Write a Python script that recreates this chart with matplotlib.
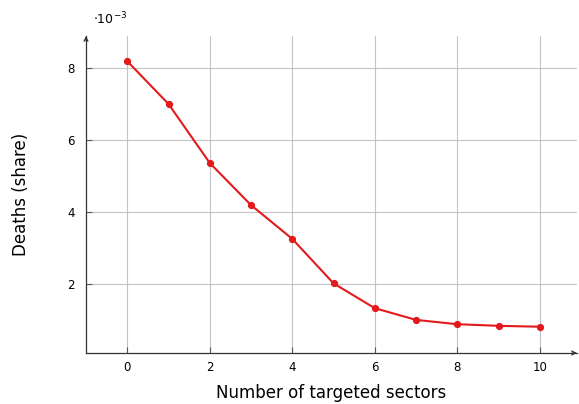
import matplotlib
matplotlib.use("Agg")
import matplotlib.pyplot as plt

sectors = [0, 1, 2, 3, 4, 5, 6, 7, 8, 9, 10]
deaths_share = [8.19, 7.0, 5.36, 4.19, 3.25, 2.015, 1.325, 1.0, 0.88, 0.835, 0.81]  # ×10^-3
xticks = [0, 2, 4, 6, 8, 10]
yticks = [2, 4, 6, 8]

plt.rcParams["font.family"] = ["DejaVu Sans"]

W, H = 579, 404
fig = plt.figure(figsize=(W / 100, H / 100), dpi=100)
left, right, top, bottom = 86, 577, 36, 353
ax = fig.add_axes([left / W, 1 - bottom / H, (right - left) / W, (bottom - top) / H])

ax.set_xlim(-1, 10.9)
ax.set_ylim(0.08, 8.89)

ax.plot(sectors, deaths_share, color="#e31a1c", lw=1.5, marker="o", ms=4.2, zorder=3)

ax.set_xticks(xticks)
ax.set_yticks(yticks)
ax.grid(True, color="#c4c4c4", lw=0.8)
ax.set_axisbelow(True)
ax.tick_params(direction="in", length=4, width=0.8, color="#555555", labelsize=8.5)
ax.tick_params(axis="x", pad=6)
ax.tick_params(axis="y", pad=8)

for s in ["top", "right"]:
    ax.spines[s].set_visible(False)
for s in ["left", "bottom"]:
    ax.spines[s].set_color("#333333")
    ax.spines[s].set_linewidth(0.9)

# arrow heads on axis ends
ax.annotate("", xy=(1.0, 0), xytext=(0.99, 0), xycoords="axes fraction",
            arrowprops=dict(arrowstyle="->", color="#333333", lw=0.9, shrinkA=0, shrinkB=0,
                            mutation_scale=7))
ax.annotate("", xy=(0, 1.0), xytext=(0, 0.985), xycoords="axes fraction",
            arrowprops=dict(arrowstyle="->", color="#333333", lw=0.9, shrinkA=0, shrinkB=0,
                            mutation_scale=7))

ax.set_xlabel("Number of targeted sectors", fontsize=12, labelpad=7)
ax.set_ylabel("Deaths (share)", fontsize=12, labelpad=27)
fig.text(93 / W, 1 - 19 / H, r"$\cdot10^{-3}$", fontsize=9, va="center", ha="left")

fig.savefig("out.png", dpi=100)
